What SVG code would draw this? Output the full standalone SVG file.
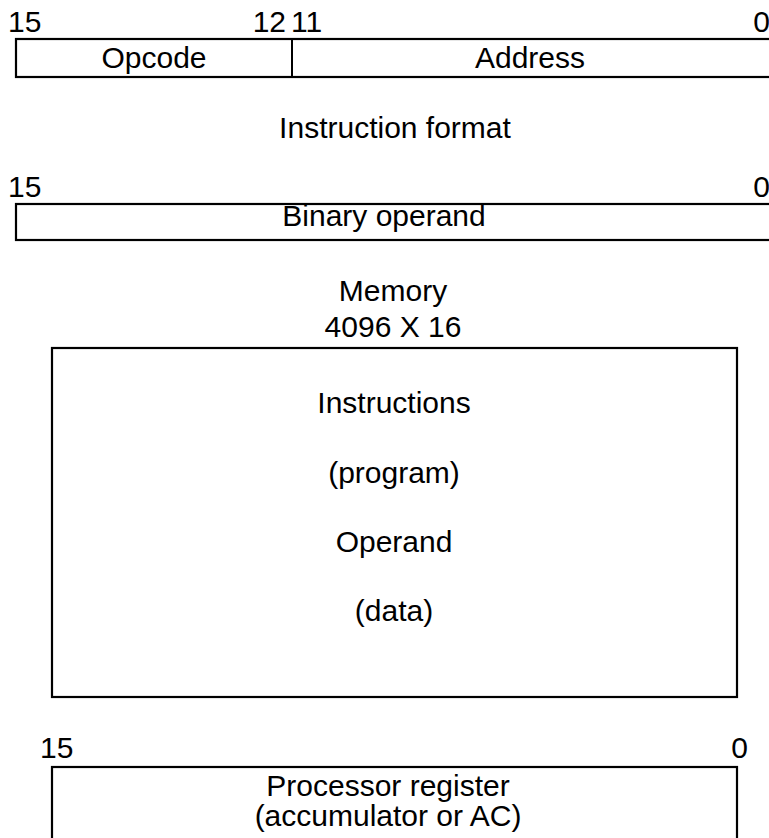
<svg xmlns="http://www.w3.org/2000/svg" width="769" height="838" viewBox="0 0 769 838">
<style>
text{font-family:"Liberation Sans",Arial,sans-serif;font-size:30px;fill:#000}
.c{text-anchor:middle}
.e{text-anchor:end}
.box{fill:#fff;stroke:#000;stroke-width:2.2}
</style>
<rect width="769" height="838" fill="#fff"/>
<g id="instruction-format">
<rect class="box" x="16" y="39" width="770" height="38"/>
<line x1="292" y1="39" x2="292" y2="77" stroke="#000" stroke-width="2"/>
<text x="8" y="32">15</text>
<text class="e" x="286" y="32">12</text>
<text x="291" y="32">11</text>
<text class="e" x="770" y="32">0</text>
<text class="c" x="154" y="68">Opcode</text>
<text class="c" x="530" y="68">Address</text>
<text class="c" x="395" y="138">Instruction format</text>
</g>
<g id="binary-operand">
<text x="8" y="197">15</text>
<text class="e" x="770" y="197">0</text>
<rect class="box" x="16" y="204" width="770" height="36"/>
<text class="c" x="384" y="226">Binary operand</text>
</g>
<g id="memory">
<text class="c" x="393" y="301">Memory</text>
<text class="c" x="393" y="337">4096 X 16</text>
<rect class="box" x="52" y="348" width="685" height="349"/>
<text class="c" x="394" y="413">Instructions</text>
<text class="c" x="394" y="483">(program)</text>
<text class="c" x="394" y="552">Operand</text>
<text class="c" x="394" y="621">(data)</text>
</g>
<g id="processor-register">
<text x="40" y="758">15</text>
<text class="e" x="748" y="758">0</text>
<rect class="box" x="52" y="767" width="685" height="90"/>
<text class="c" x="388" y="796">Processor register</text>
<text class="c" x="388" y="826">(accumulator or AC)</text>
</g>
<g id="connectors"></g>
</svg>
